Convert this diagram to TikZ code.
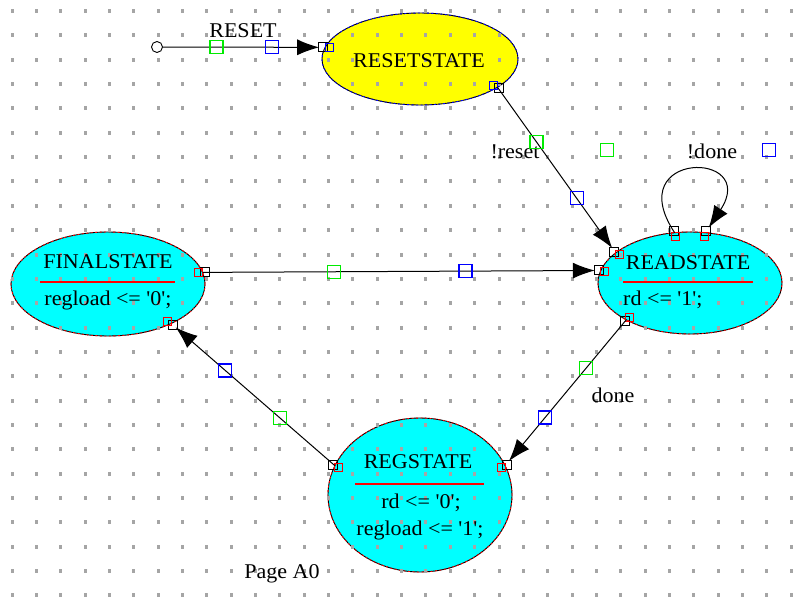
\documentclass[tikz,border=0pt]{standalone}
\usepackage{fontspec}
\setmainfont{Liberation Serif}[Ligatures=TeXOff,FakeStretch=1.05]
\usetikzlibrary{shapes.geometric,arrows.meta,calc}
\definecolor{dotgray}{RGB}{165,165,165}
\definecolor{sqgreen}{RGB}{0,235,0}
\definecolor{sqblue}{RGB}{0,0,255}
\definecolor{stcyan}{RGB}{0,255,255}
\definecolor{styellow}{RGB}{255,255,0}
\tikzset{
  cyanstate/.style={ellipse, inner sep=0pt, outer sep=0pt, fill=stcyan, draw=black, line width=0.9pt,
    postaction={draw=red, line width=0.9pt, dash pattern=on 2pt off 2.5pt}},
  yellowstate/.style={ellipse, inner sep=0pt, outer sep=0pt, fill=styellow, draw=black, line width=0.9pt,
    postaction={draw=blue, line width=0.9pt, dash pattern=on 2pt off 2.5pt}},
  txt/.style={font=\fontsize{21}{24}\selectfont, inner sep=0pt, anchor=base},
  edge/.style={draw=black, line width=1pt, -{Latex[length=22pt,width=16pt]}, shorten >=6pt},
  gsq/.style={draw=sqgreen, line width=1.2pt, minimum size=13pt, inner sep=0pt, shape=rectangle},
  bsq/.style={draw=sqblue, line width=1.2pt, minimum size=13pt, inner sep=0pt, shape=rectangle},
  redline/.style={draw=red, line width=1.2pt},
}
\newcommand\cbox[3]{%
  \draw[black, line width=0.9pt] ($(#1.#2)!-2pt!(#1.center)$) +(-4.5,-4.5) rectangle +(4.5,4.5);
  \draw[#3, line width=1pt] ($(#1.#2)!4pt!(#1.center)$) +(-4,-4) rectangle +(4,4);}
\begin{document}
\begin{tikzpicture}[x=1pt,y=-1pt]
\useasboundingbox (0,0) rectangle (806,597);
\fill[white] (0,0) rectangle (806,597);
% states
\node[yellowstate, minimum width=196pt, minimum height=92pt] (reset) at (420,59) {};
\node[cyanstate, minimum width=184pt, minimum height=102pt] (read) at (690,283) {};
\node[cyanstate, minimum width=194pt, minimum height=104pt] (fin) at (108,284) {};
\node[cyanstate, minimum width=184pt, minimum height=154pt] (reg) at (420,495) {};
% grid dots
\foreach \i in {0,...,32}{
  \foreach \j in {0,...,24}{
    \fill[dotgray] ({12+24.35*\i-1.5},{11+24.35*\j-2}) rectangle ++(3,4);
  }
}
% initial point
\node[circle, draw=black, fill=white, line width=0.9pt, minimum size=11pt, inner sep=0pt] (init) at (157,47) {};
% texts
\node[txt] (tReset) at (419,67) {RESETSTATE};
\node[txt] (tRead) at (688,269) {READSTATE};
\draw[redline] (623,282) -- (753,282);
\node[txt, anchor=base west] (tRead1) at (623,305) {rd <= '1';};
\node[txt] (tFin) at (108,268) {FINALSTATE};
\draw[redline] (40,282) -- (175,282);
\node[txt] (tFin1) at (108,305) {regload <= '0';};
\node[txt] (tReg) at (418,468) {REGSTATE};
\draw[redline] (355,484) -- (484,484);
\node[txt] (tReg1) at (421,508) {rd <= '0';};
\node[txt] (tReg2) at (420,535) {regload <= '1';};
% labels
\node[txt] (lRESET) at (243,37) {RESET};
\node[txt] (lreset) at (515,158) {!reset};
\node[txt] (ldone1) at (712,158) {!done};
\node[txt] (ldone) at (613,402) {done};
\node[txt] (lpage) at (282,578) {Page A0};
\node[gsq] (gLoop) at (607,150) {};
\node[bsq] (bLoop) at (769,150) {};
% connection boxes
\cbox{reset}{173}{blue}
\cbox{reset}{-20}{blue}
\cbox{read}{158}{red}
\cbox{read}{172.35}{red}
\cbox{read}{107}{red}
\cbox{read}{73}{red}
\cbox{read}{210}{red}
\cbox{fin}{7.88}{red}
\cbox{fin}{-32}{red}
\cbox{reg}{19}{red}
\cbox{reg}{161}{red}
% transitions
\draw[edge] (init) -- (reset.173) node[gsq, pos=0.33] (g0) {} node[bsq, pos=0.67] (b0) {};
\draw[edge] (reset.-20) -- (read.158) node[gsq, pos=0.33] (g1) {} node[bsq, pos=0.67] (b1) {};
\draw[edge] (fin.7.88) -- (read.172.35) node[gsq, pos=0.33] (g2) {} node[bsq, pos=0.66] (b2) {};
\draw[edge] (read.210) -- (reg.19) node[gsq, pos=0.33] (g3) {} node[bsq, pos=0.67] (b3) {};
\draw[edge] (reg.161) -- (fin.-32) node[gsq, pos=0.335] (g4) {} node[bsq, pos=0.67] (b4) {};
\draw[edge] (read.107) .. controls (620,150) and (760,150) .. (read.73);
\end{tikzpicture}
\end{document}
